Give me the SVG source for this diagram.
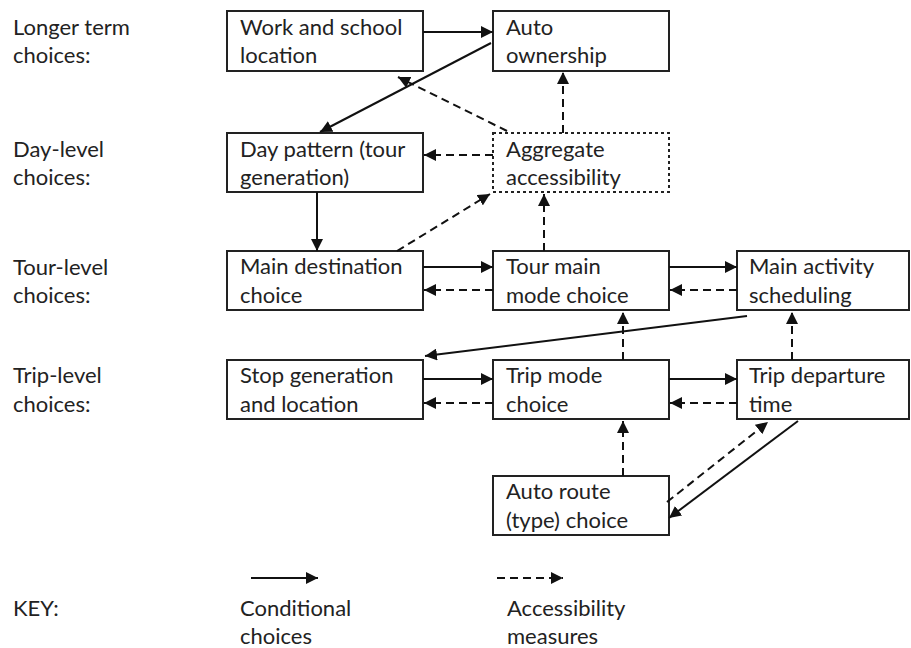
<svg xmlns="http://www.w3.org/2000/svg" width="911" height="648" viewBox="0 0 911 648">
<style>
  text { font-family: Lato, "Liberation Sans", sans-serif; font-size: 22px; fill: #222; }
  .box { fill: #fff; stroke: #222; stroke-width: 2; }
  .dotted { fill: #fff; stroke: #222; stroke-width: 2; stroke-dasharray: 3 3; }
  .solid { fill: none; stroke: #111; stroke-width: 2; marker-end: url(#ah); }
  .dash { fill: none; stroke: #111; stroke-width: 2; stroke-dasharray: 8 5; marker-end: url(#ah); }
</style>
<defs>
  <marker id="ah" viewBox="0 0 10 10" refX="10" refY="5" markerWidth="12" markerHeight="12" markerUnits="userSpaceOnUse" orient="auto">
    <path d="M0,0 L10,5 L0,10 z" fill="#111"/>
  </marker>
</defs>
<rect width="911" height="648" fill="#fff"/>

<g id="level-labels">
  <text x="13" y="35">Longer term</text><text x="13" y="63">choices:</text>
  <text x="13" y="157">Day-level</text><text x="13" y="185">choices:</text>
  <text x="13" y="275">Tour-level</text><text x="13" y="303">choices:</text>
  <text x="13" y="383">Trip-level</text><text x="13" y="412">choices:</text>
</g>

<g id="work-school">
  <rect class="box" x="227" y="11" width="196" height="60"/>
  <text x="240" y="35">Work and school</text><text x="240" y="63">location</text>
</g>
<g id="auto-ownership">
  <rect class="box" x="493" y="11" width="176" height="60"/>
  <text x="506" y="35">Auto</text><text x="506" y="63">ownership</text>
</g>
<g id="day-pattern">
  <rect class="box" x="227" y="133" width="196" height="59"/>
  <text x="240" y="157">Day pattern (tour</text><text x="240" y="185">generation)</text>
</g>
<g id="aggregate-accessibility">
  <rect class="dotted" x="493" y="133" width="176" height="59"/>
  <text x="506" y="157">Aggregate</text><text x="506" y="185">accessibility</text>
</g>
<g id="main-destination">
  <rect class="box" x="227" y="251" width="196" height="59"/>
  <text x="240" y="274">Main destination</text><text x="240" y="303">choice</text>
</g>
<g id="tour-main-mode">
  <rect class="box" x="493" y="251" width="176" height="59"/>
  <text x="506" y="274">Tour main</text><text x="506" y="303">mode choice</text>
</g>
<g id="main-activity">
  <rect class="box" x="737" y="251" width="172" height="59"/>
  <text x="749" y="274">Main activity</text><text x="749" y="303">scheduling</text>
</g>
<g id="stop-generation">
  <rect class="box" x="227" y="360" width="196" height="59"/>
  <text x="240" y="383">Stop generation</text><text x="240" y="412">and location</text>
</g>
<g id="trip-mode">
  <rect class="box" x="493" y="360" width="176" height="59"/>
  <text x="506" y="383">Trip mode</text><text x="506" y="412">choice</text>
</g>
<g id="trip-departure">
  <rect class="box" x="737" y="360" width="172" height="59"/>
  <text x="749" y="383">Trip departure</text><text x="749" y="412">time</text>
</g>
<g id="auto-route">
  <rect class="box" x="493" y="476" width="176" height="59"/>
  <text x="506" y="499">Auto route</text><text x="506" y="528">(type) choice</text>
</g>

<g id="connectors">
  <path class="solid" d="M423,32 L493,32"/>
  <path class="solid" d="M491,43 L320,132"/>
  <path class="solid" d="M317,192 L317,251"/>
  <path class="solid" d="M423,267 L493,267"/>
  <path class="solid" d="M669,267 L737,267"/>
  <path class="solid" d="M747,316 L425,356"/>
  <path class="solid" d="M423,379 L493,379"/>
  <path class="solid" d="M669,379 L737,379"/>
  <path class="solid" d="M798,421 L669,518"/>

  <path class="dash" d="M507,131 L398,77"/>
  <path class="dash" d="M563,133 L563,72"/>
  <path class="dash" d="M493,155 L424,155"/>
  <path class="dash" d="M397,251 L490,194"/>
  <path class="dash" d="M544,251 L544,194"/>
  <path class="dash" d="M493,290 L424,290"/>
  <path class="dash" d="M737,290 L670,290"/>
  <path class="dash" d="M623,360 L623,312"/>
  <path class="dash" d="M792,360 L792,312"/>
  <path class="dash" d="M493,403 L424,403"/>
  <path class="dash" d="M737,403 L670,403"/>
  <path class="dash" d="M623,476 L623,421"/>
  <path class="dash" d="M667,502 L768,422"/>
</g>

<g id="key">
  <text x="13" y="616">KEY:</text>
  <path class="solid" d="M251,578 L318,578"/>
  <text x="240" y="616">Conditional</text><text x="240" y="644">choices</text>
  <path class="dash" d="M497,578 L563,578"/>
  <text x="507" y="616">Accessibility</text><text x="507" y="644">measures</text>
</g>
</svg>
